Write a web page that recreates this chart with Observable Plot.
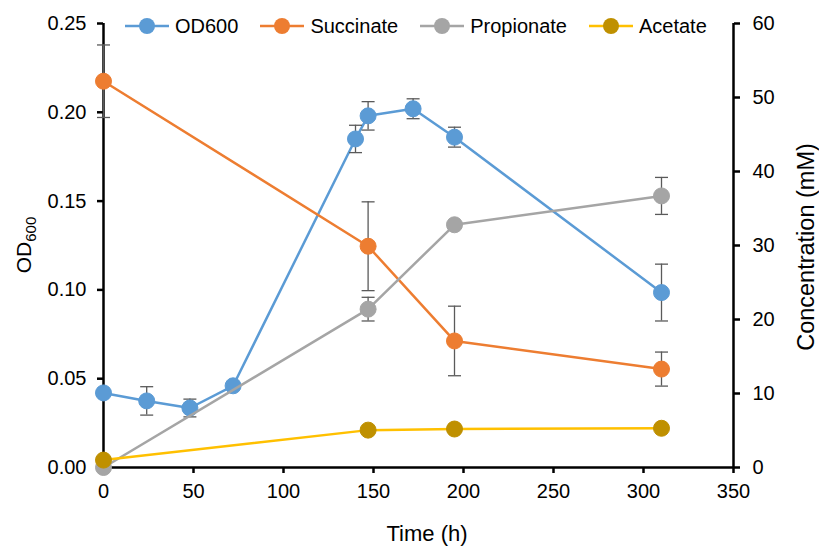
<!DOCTYPE html>
<html><head><meta charset="utf-8">
<script src="https://cdn.jsdelivr.net/npm/d3@7"></script>
<script src="https://cdn.jsdelivr.net/npm/@observablehq/plot@0.6"></script>
<style>
body{margin:0;background:#fff;font-family:"Liberation Sans",Arial,sans-serif;}
#wrap{position:relative;width:819px;height:547px;}
#legend{position:absolute;left:125px;top:14px;display:flex;align-items:center;gap:22px;font-size:20px;color:#000;}
.item{display:flex;align-items:center;}
.item span{margin-left:6px;line-height:24px;}
</style></head><body><div id="wrap"><div id="legend"></div></div>
<script>
// ---- data ----
const odTime  = [0, 24, 48, 72, 140, 147, 172, 195, 310];
const odValue = [0.042, 0.0375, 0.0335, 0.046, 0.185, 0.198, 0.202, 0.186, 0.0985];
const odErr   = [0, 0.008, 0.005, 0, 0.0077, 0.008, 0.0056, 0.0056, 0.016];

const acidTime   = [0, 147, 195, 310];
const succinate  = [52.2, 29.9, 17.1, 13.3];
const succErr    = [4.9, 6.0, 4.7, 2.3];
const propionate = [0, 21.4, 32.8, 36.7];
const propErr    = [0, 1.6, 0, 2.5];
const acetate    = [1.0, 5.05, 5.2, 5.3];
const acetErr    = [0, 0, 0, 0];

const xTicks    = [0, 50, 100, 150, 200, 250, 300, 350];
const odTicks   = [0, 0.05, 0.10, 0.15, 0.20, 0.25];
const concTicks = [0, 10, 20, 30, 40, 50, 60];

const seriesNames = ["OD600", "Succinate", "Propionate", "Acetate"];
const lineColors  = ["#5B9BD5", "#ED7D31", "#A5A5A5", "#FFC000"];
const dotColors   = ["#5B9BD5", "#ED7D31", "#A5A5A5", "#BF9000"];

// concentration (0-60 mM) mapped onto OD scale (0-0.25)
const k = 0.25 / 60;

function rows(times, vals, errs, f) {
  return times.map((t, i) => ({t, v: vals[i] * f, lo: (vals[i] - errs[i]) * f, hi: (vals[i] + errs[i]) * f, e: errs[i]}));
}
const series = [
  rows(odTime, odValue, odErr, 1),
  rows(acidTime, succinate, succErr, k),
  rows(acidTime, propionate, propErr, k),
  rows(acidTime, acetate, acetErr, k)
];

const cap = {draw(ctx, size) { const w = Math.sqrt(size / Math.PI); ctx.moveTo(-w, 0); ctx.lineTo(w, 0); }};
const errColor = "#5a5a5a";

const marks = [
  Plot.ruleX([0], {stroke: "#000", strokeWidth: 2.5}),
  Plot.ruleX([350], {stroke: "#000", strokeWidth: 2.5}),
  Plot.ruleY([0], {stroke: "#000", strokeWidth: 2.5}),
  Plot.axisX({ticks: xTicks, tickSize: 6, tickPadding: 10, label: null, strokeWidth: 2.5, tickFormat: d => String(d)}),
  Plot.axisY({anchor: "left", ticks: odTicks, tickFormat: d3.format(".2f"), tickSize: 6, tickPadding: 11, label: null, strokeWidth: 2.5}),
  Plot.axisY({anchor: "right", ticks: concTicks.map(v => v * k), tickFormat: d => String(Math.round(d / k)), tickSize: 6, tickPadding: 13, label: null, strokeWidth: 2.5})
];
series.forEach((s, i) => {
  const eb = s.filter(d => d.e > 0);
  marks.push(
    Plot.line(s, {x: "t", y: "v", stroke: lineColors[i], strokeWidth: 2.5}),
    Plot.ruleX(eb, {x: "t", y1: "lo", y2: "hi", stroke: errColor, strokeWidth: 1.3}),
    Plot.dot(eb, {x: "t", y: "lo", symbol: cap, r: 6.5, stroke: errColor, strokeWidth: 1.3, fill: "none"}),
    Plot.dot(eb, {x: "t", y: "hi", symbol: cap, r: 6.5, stroke: errColor, strokeWidth: 1.3, fill: "none"}),
    Plot.dot(s, {x: "t", y: "v", r: 8, fill: dotColors[i], stroke: dotColors[i], strokeWidth: 1})
  );
});

const chart = Plot.plot({
  width: 819, height: 547,
  marginLeft: 103, marginRight: 86, marginTop: 23, marginBottom: 80,
  style: {fontSize: "20px", fontFamily: "'Liberation Sans', Arial, sans-serif", color: "#000", background: "#fff", overflow: "visible"},
  x: {domain: [0, 350]},
  y: {domain: [0, 0.25]},
  marks
});

// axis titles
const svg = d3.select(chart);
svg.append("text").attr("x", 427).attr("y", 541).attr("text-anchor", "middle")
  .attr("font-size", 22).attr("fill", "#000").text("Time (h)");
const od = svg.append("text").attr("transform", "translate(31,245) rotate(-90)").attr("text-anchor", "middle")
  .attr("font-size", 21).attr("fill", "#000");
od.append("tspan").text("OD");
od.append("tspan").attr("font-size", 15).attr("dy", 5).text("600");
svg.append("text").attr("transform", "translate(814,247) rotate(-90)").attr("text-anchor", "middle")
  .attr("font-size", 23.5).attr("fill", "#000").text("Concentration (mM)");

document.getElementById("wrap").prepend(chart);

// legend
const legend = d3.select("#legend");
seriesNames.forEach((name, i) => {
  const it = legend.append("div").attr("class", "item");
  const sw = it.append("svg").attr("width", 44).attr("height", 20);
  sw.append("line").attr("x1", 0).attr("x2", 44).attr("y1", 10).attr("y2", 10)
    .attr("stroke", lineColors[i]).attr("stroke-width", 2.5);
  sw.append("circle").attr("cx", 22).attr("cy", 10).attr("r", 8).attr("fill", dotColors[i]);
  it.append("span").text(name);
});
</script>
</body></html>
